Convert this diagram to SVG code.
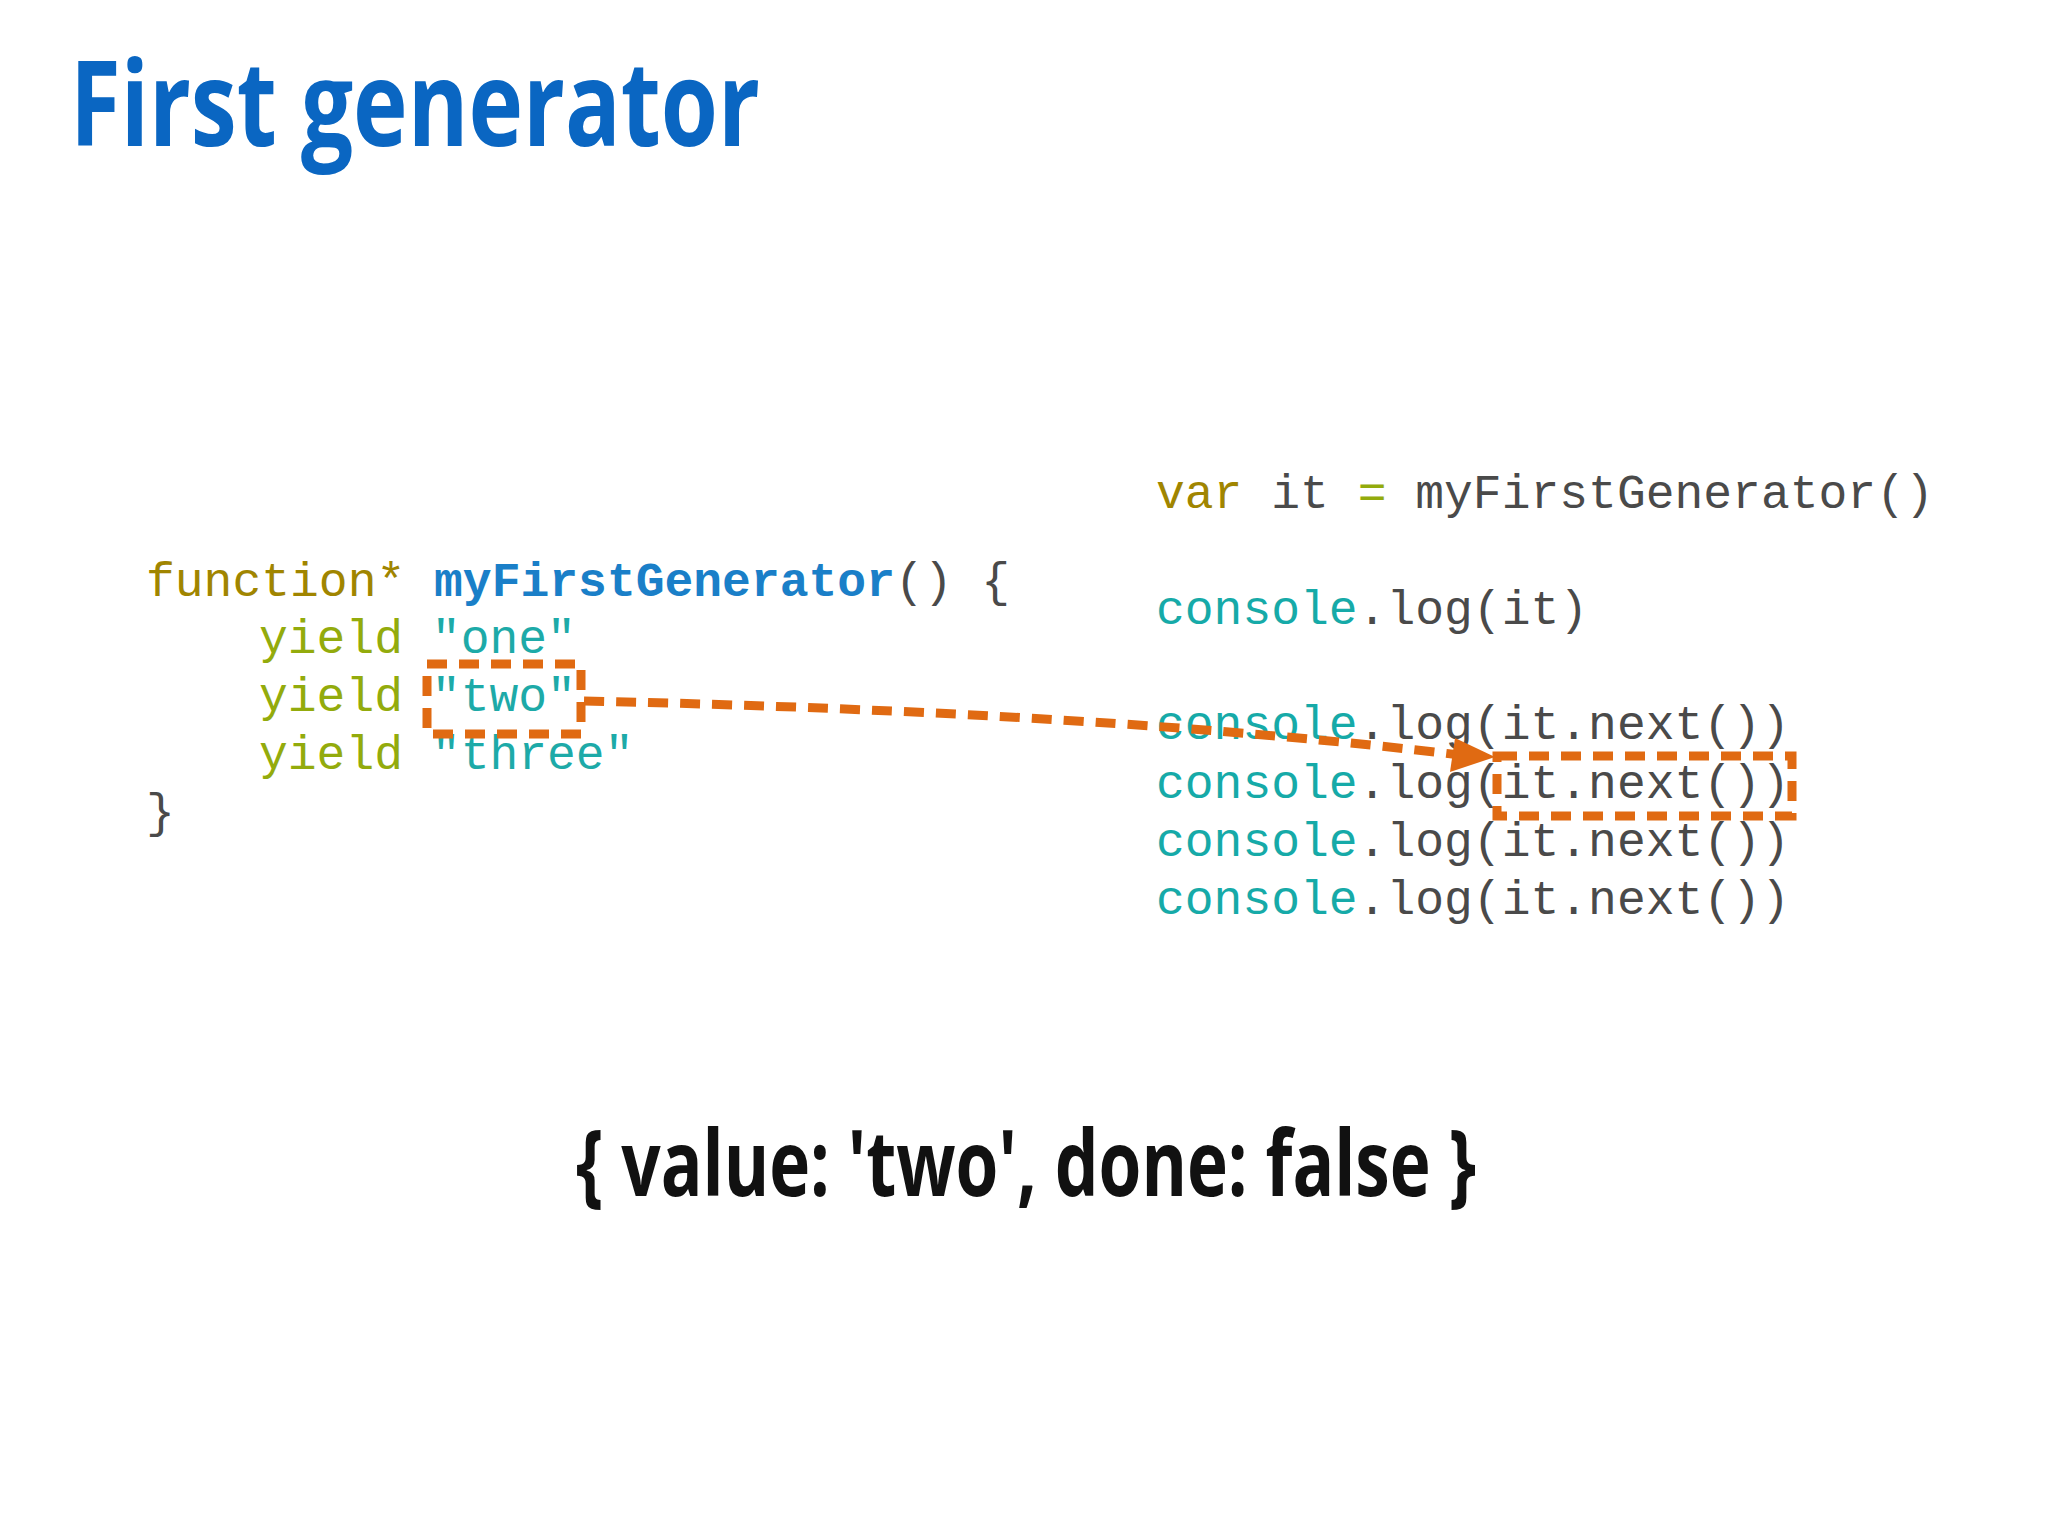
<svg xmlns="http://www.w3.org/2000/svg" width="2048" height="1536" viewBox="0 0 2048 1536">
<style>
.c{font-family:"Liberation Mono","Courier New",monospace;font-size:48px;fill:#4a4a4a;white-space:pre}
.kw{fill:#a08500}.y{fill:#93ab0c}.s{fill:#1daaa8}.fn{fill:#1a7fc8;font-weight:bold}.con{fill:#16aaa8}
.d{fill:none;stroke:#e06a12;stroke-width:9;stroke-dasharray:20 12}
</style>
<defs><marker id="ah" markerWidth="10" markerHeight="10" refX="9" refY="5" orient="auto" markerUnits="userSpaceOnUse" viewBox="0 0 10 10"><path d="M0,0L10,5L0,10z" fill="#e06a12"/></marker></defs>
<rect width="2048" height="1536" fill="#fff"/>
<text x="70" y="146" font-family="Open Sans,Liberation Sans,sans-serif" font-weight="bold" font-size="118" fill="#0a66c2" textLength="690" lengthAdjust="spacingAndGlyphs">First generator</text>
<g id="gen">
<text class="c" x="146" y="596"><tspan class="kw">function*</tspan> <tspan class="fn">myFirstGenerator</tspan>() {</text>
<text class="c" x="259" y="653"><tspan class="y">yield</tspan> <tspan class="s">"one"</tspan></text>
<text class="c" x="259" y="711"><tspan class="y">yield</tspan> <tspan class="s">"two"</tspan></text>
<text class="c" x="259" y="769"><tspan class="y">yield</tspan> <tspan class="s">"three"</tspan></text>
<text class="c" x="146" y="827">}</text>
</g>
<g id="use">
<text class="c" x="1156" y="508"><tspan class="kw">var</tspan> it <tspan class="y">=</tspan> myFirstGenerator()</text>
<text class="c" x="1156" y="624"><tspan class="con">console</tspan>.log(it)</text>
<text class="c" x="1156" y="739"><tspan class="con">console</tspan>.log(it.next())</text>
<text class="c" x="1156" y="798"><tspan class="con">console</tspan>.log(it.next())</text>
<text class="c" x="1156" y="856"><tspan class="con">console</tspan>.log(it.next())</text>
<text class="c" x="1156" y="914"><tspan class="con">console</tspan>.log(it.next())</text>
</g>
<g id="boxes">
<rect class="d" x="427" y="664" width="154" height="70"/>
<rect class="d" x="1497" y="756" width="295" height="60"/>
</g>
<g id="connectors">
<path class="d" d="M584,701 Q1100,712 1460,755"/>
<path d="M1455,738L1495,757L1450,772z" fill="#e06a12"/>
</g>
<text x="1026" y="1196" text-anchor="middle" font-family="Open Sans,Liberation Sans,sans-serif" font-weight="bold" font-size="92" fill="#111" textLength="900" lengthAdjust="spacingAndGlyphs">{ value: 'two', done: false }</text>
</svg>
